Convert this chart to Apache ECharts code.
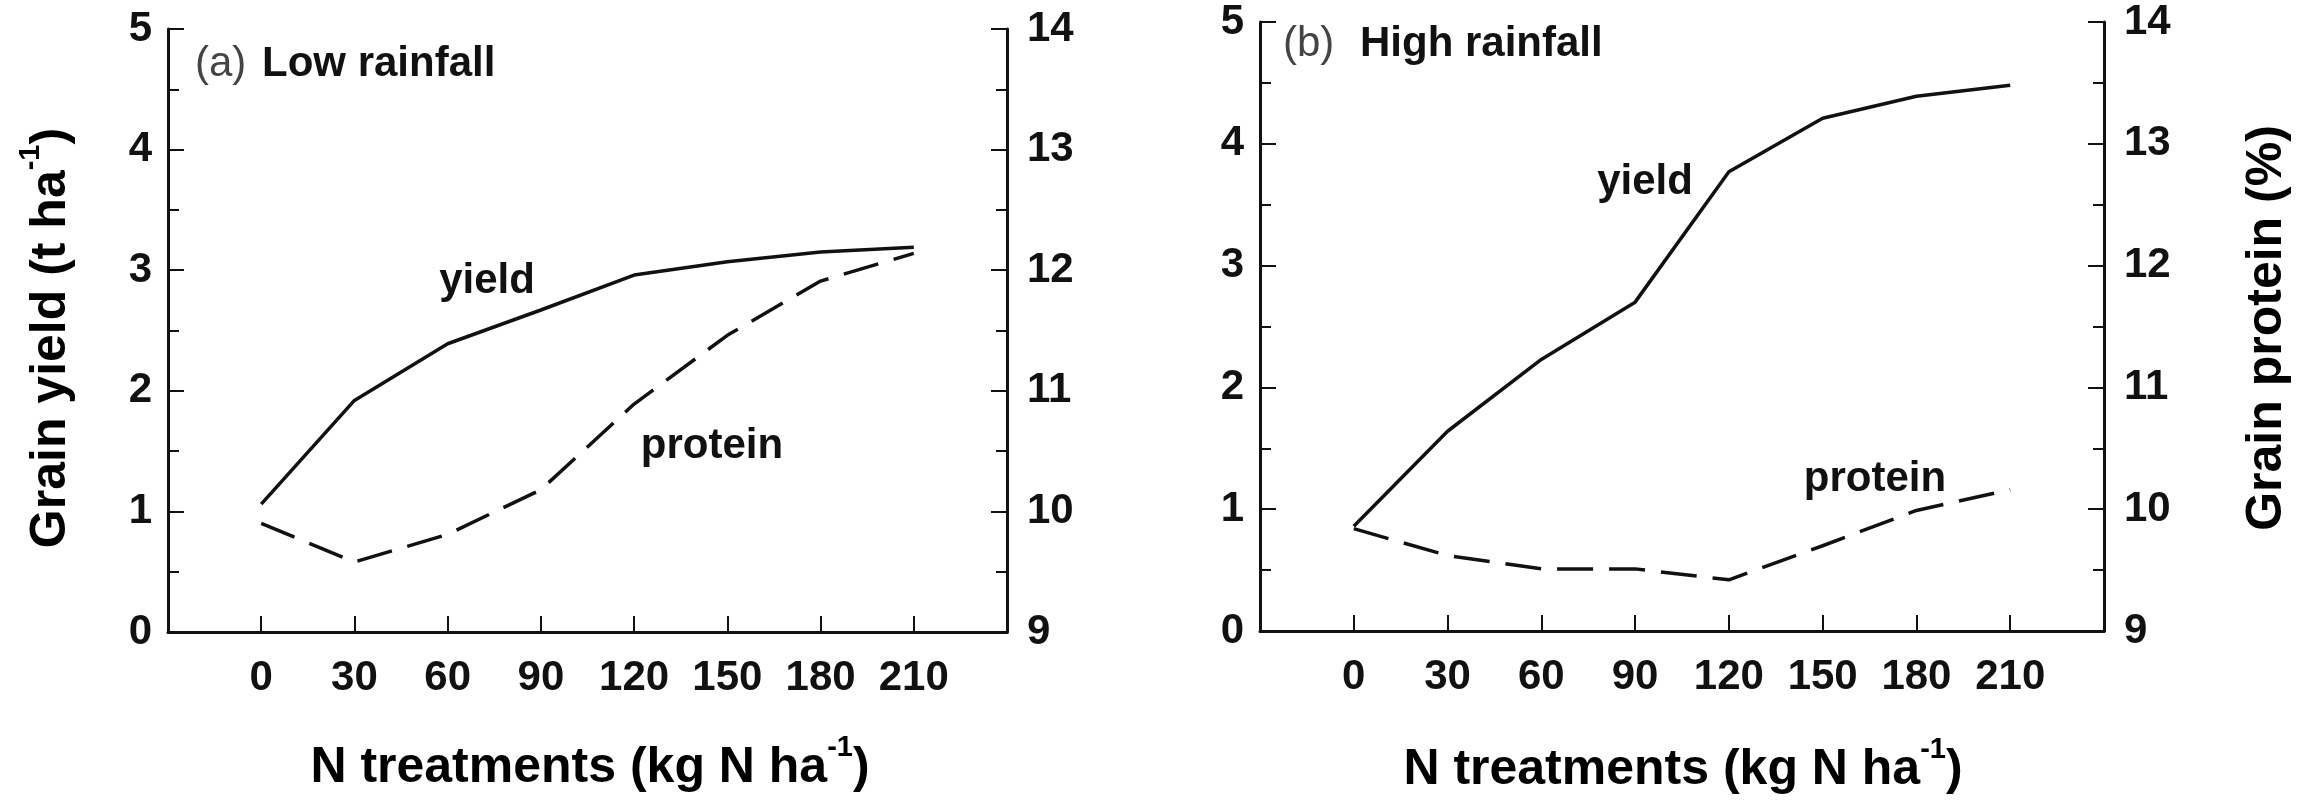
<!DOCTYPE html>
<html>
<head>
<meta charset="utf-8">
<script src="https://cdn.jsdelivr.net/npm/echarts@6/dist/echarts.min.js"></script>
<style>
html,body{margin:0;padding:0;background:#fff;}
#c{width:2312px;height:803px;}
</style>
</head>
<body>
<div id="c"></div>
<script>
// ---- data ----
const nTreatments = [0, 30, 60, 90, 120, 150, 180, 210];
const lowYield    = [1.06, 1.92, 2.39, 2.67, 2.96, 3.07, 3.15, 3.19];
const lowProtein  = [9.90, 9.58, 9.81, 10.18, 10.89, 11.46, 11.91, 12.14];
const highYield   = [0.86, 1.64, 2.23, 2.70, 3.77, 4.21, 4.39, 4.48];
const highProtein = [9.84, 9.62, 9.51, 9.51, 9.42, 9.70, 9.99, 10.16];
const yieldTicks   = [0, 1, 2, 3, 4, 5];
const proteinTicks = [9, 10, 11, 12, 13, 14];

const FONT = '"Liberation Sans", Arial, Helvetica, sans-serif';
const INK = '#111';

const pairs = (xs, ys) => xs.map((x, i) => [x, ys[i]]);

function xAxisFor(gi) {
  return {
    type: 'value', gridIndex: gi, min: -30, max: 240, interval: 30,
    axisLine: {show: true, onZero: false, lineStyle: {color: INK, width: 3}},
    axisTick: {show: true, inside: true, length: 16, lineStyle: {color: INK, width: 2}},
    axisLabel: {
      margin: 25, color: INK, fontSize: 42, fontWeight: 'bold', fontFamily: FONT,
      showMinLabel: true, showMaxLabel: true,
      formatter: v => (nTreatments.indexOf(v) >= 0 ? String(v) : '')
    },
    splitLine: {show: false}
  };
}
function yAxisFor(gi, pos, ticks) {
  return {
    type: 'value', gridIndex: gi, position: pos,
    min: ticks[0], max: ticks[ticks.length - 1], interval: 1,
    axisLine: {show: true, onZero: false, lineStyle: {color: INK, width: 3}},
    axisTick: {show: true, inside: true, length: 16, lineStyle: {color: INK, width: 2}},
    minorTick: {show: true, splitNumber: 2, length: 11, lineStyle: {color: INK, width: 2}},
    axisLabel: {
      margin: pos === 'left' ? 16 : 20, color: INK, fontSize: 42, fontWeight: 'bold', fontFamily: FONT,
      showMinLabel: true, showMaxLabel: true
    },
    splitLine: {show: false}
  };
}
function lineSeries(xi, yi, xs, ys, dashed) {
  return {
    type: 'line', xAxisIndex: xi, yAxisIndex: yi, data: pairs(xs, ys),
    symbol: 'none', silent: true,
    lineStyle: {color: INK, width: 3.5, type: dashed ? [36, 16] : 'solid'}
  };
}

const richSup = {
  b: {fontSize: 50, fontWeight: 'bold', fontFamily: FONT, color: INK, lineHeight: 60, verticalAlign: 'bottom'},
  s: {fontSize: 29, fontWeight: 'bold', fontFamily: FONT, color: INK, verticalAlign: 'top'}
};
function titleText(x, y, text, rot) {
  return {
    type: 'text', x: x, y: y, rotation: rot || 0, silent: true,
    style: {text: text, rich: richSup, align: 'center', verticalAlign: 'middle'}
  };
}
function annot(x, y, text, weight, align, color) {
  return {
    type: 'text', x: x, y: y, silent: true,
    style: {text: text, fontSize: 42, fontWeight: weight, fontFamily: FONT,
            fill: color || INK, align: align || 'center', verticalAlign: 'middle'}
  };
}

const option = {
  animation: false,
  backgroundColor: '#fff',
  grid: [
    {left: 168, top: 29, width: 839, height: 603},
    {left: 1260, top: 22, width: 844, height: 609}
  ],
  xAxis: [xAxisFor(0), xAxisFor(1)],
  yAxis: [
    yAxisFor(0, 'left', yieldTicks),
    yAxisFor(0, 'right', proteinTicks),
    yAxisFor(1, 'left', yieldTicks),
    yAxisFor(1, 'right', proteinTicks)
  ],
  series: [
    lineSeries(0, 0, nTreatments, lowYield, false),
    lineSeries(0, 1, nTreatments, lowProtein, true),
    lineSeries(1, 2, nTreatments, highYield, false),
    lineSeries(1, 3, nTreatments, highProtein, true)
  ],
  graphic: [
    annot(195, 64, '(a)', 'normal', 'left', '#444'),
    annot(262, 64, 'Low rainfall', 'bold', 'left'),
    annot(487, 281, 'yield', 'bold'),
    annot(712, 446, 'protein', 'bold'),
    annot(1283, 44, '(b)', 'normal', 'left', '#444'),
    annot(1360, 44, 'High rainfall', 'bold', 'left'),
    annot(1645, 182, 'yield', 'bold'),
    annot(1875, 479, 'protein', 'bold'),
    titleText(46, 338, '{b|Grain yield (t ha}{s|-1}{b|)}', Math.PI / 2),
    titleText(2262, 328, '{b|Grain protein (%)}', Math.PI / 2),
    titleText(590, 763, '{b|N treatments (kg N ha}{s|-1}{b|)}'),
    titleText(1683, 765, '{b|N treatments (kg N ha}{s|-1}{b|)}')
  ]
};

const chart = echarts.init(document.getElementById('c'), null, {renderer: 'canvas'});
chart.setOption(option);
</script>
</body>
</html>
